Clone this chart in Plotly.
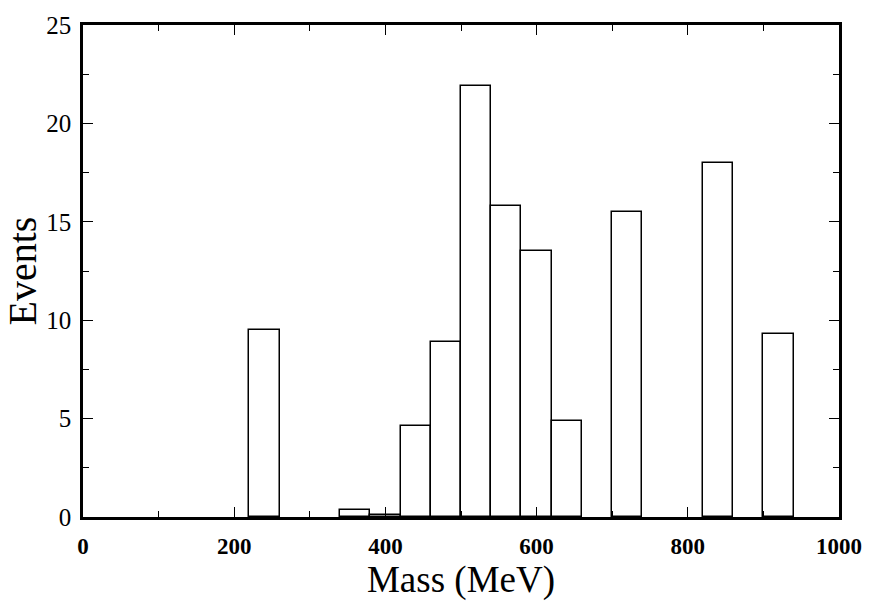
import plotly.graph_objects as go

# Histogram data (bin low edge in MeV, events)
bin_low = [220, 340, 380, 420, 460, 500, 540, 580, 620, 700, 820, 900]
events = [9.5, 0.35, 0.1, 4.6, 8.9, 21.9, 15.8, 13.5, 4.9, 15.5, 18.0, 9.3]
bin_width = 40

x_ticks = [0, 200, 400, 600, 800, 1000]
y_ticks = [0, 5, 10, 15, 20, 25]

centers = [b + bin_width / 2 for b in bin_low]

fig = go.Figure()
fig.add_trace(go.Bar(
    x=centers, y=events, width=[bin_width] * len(centers),
    marker=dict(color="white", line=dict(color="black", width=1.5)),
    showlegend=False,
))

serif = "Liberation Serif, Times New Roman, serif"
fig.update_layout(
    width=874, height=606,
    margin=dict(l=83, r=29, t=14, b=89),
    paper_bgcolor="white", plot_bgcolor="white",
    font=dict(family=serif, color="black"),
    bargap=0,
)
fig.update_xaxes(
    range=[0, 1000], tickvals=x_ticks,
    ticktext=["<b>%d</b>" % v for v in x_ticks],
    ticks="inside", ticklen=10, tickwidth=1.2, tickcolor="black",
    minor=dict(dtick=100, ticks="inside", ticklen=6, tickcolor="black"),
    showline=True, linecolor="black", linewidth=2.5, mirror="ticks",
    showgrid=False, zeroline=False,
    tickfont=dict(size=23, family=serif),
    ticklabelstandoff=7,
    title=dict(text="Mass (MeV)", font=dict(size=37, family=serif), standoff=2),
)
fig.update_yaxes(
    range=[0, 25], tickvals=y_ticks, ticktext=[str(v) for v in y_ticks],
    ticks="inside", ticklen=10, tickwidth=1.2, tickcolor="black",
    minor=dict(dtick=2.5, ticks="inside", ticklen=6, tickcolor="black"),
    showline=True, linecolor="black", linewidth=2.5, mirror="ticks",
    showgrid=False, zeroline=False,
    tickfont=dict(size=25, family=serif),
    ticklabelstandoff=4,
    title=dict(text="Events", font=dict(size=40, family=serif), standoff=6),
)

fig.write_html("out.html")
